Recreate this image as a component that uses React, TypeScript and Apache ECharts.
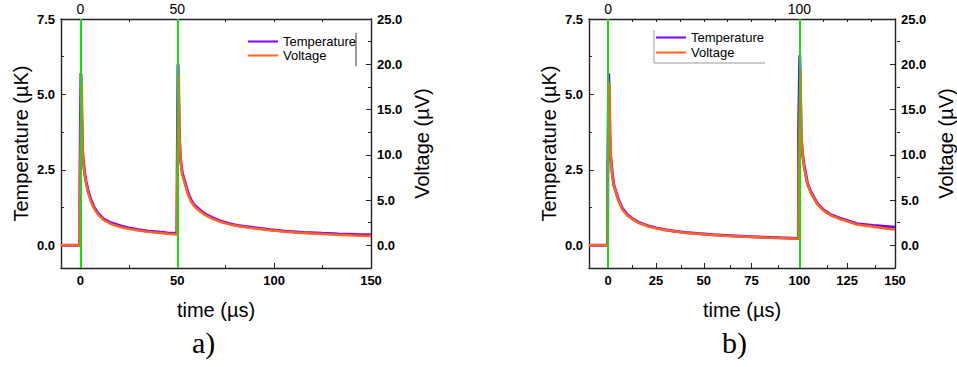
import React, { useEffect, useRef } from "react";
import * as echarts from "echarts";

// ---- data (time in µs, temperature in µK, voltage in µV) ----
const timeA = [-10, -0.3, -0.2, 0.3, 0.7, 1.1, 1.6, 2.2, 3, 4, 5.5, 7, 9, 12, 16, 21, 25, 30, 35, 40, 45, 49.8,
  50, 50.4, 50.8, 51.2, 51.8, 52.6, 53.7, 55.4, 57, 58.8, 61.5, 64, 68, 72.5, 77, 81, 90, 98, 106, 115, 125, 133, 142, 150];
const tempA = [0, 0, 2.3, 5.7, 4.3, 3.1, 2.75, 2.4, 2.1, 1.8, 1.5, 1.27, 1.07, 0.87, 0.74, 0.64, 0.58, 0.52, 0.47, 0.44, 0.41, 0.39,
  2.6, 6.0, 4.6, 3.4, 2.8, 2.4, 2.16, 1.77, 1.52, 1.33, 1.18, 1.05, 0.92, 0.8, 0.72, 0.66, 0.58, 0.52, 0.47, 0.43, 0.4, 0.38, 0.36, 0.35];
const voltA = [0, 0, 6.5, 14.0, 17.9, 11.0, 9.0, 7.8, 6.8, 5.8, 4.8, 4.1, 3.45, 2.8, 2.35, 2.0, 1.82, 1.64, 1.49, 1.38, 1.28, 1.2,
  7.5, 15.0, 18.9, 12.0, 9.2, 7.8, 7.0, 5.7, 4.9, 4.3, 3.8, 3.4, 2.95, 2.58, 2.32, 2.13, 1.86, 1.67, 1.5, 1.36, 1.26, 1.18, 1.1, 1.04];

const timeB = [-10, -0.3, -0.2, 0.3, 0.7, 1.1, 1.6, 2.4, 3, 4.1, 5.5, 7.5, 10, 12.6, 16, 21.2, 25, 29.8, 35, 40, 46.9, 55, 64, 72, 81.2, 90, 99.5,
  99.6, 100.2, 100.6, 101, 101.7, 102.6, 104.3, 106, 109.5, 112.9, 116, 121.4, 126, 130, 138.5, 144, 150];
const tempB = [0, 0, 2.3, 5.7, 4.3, 3.1, 2.75, 2.27, 2.0, 1.77, 1.5, 1.22, 1.02, 0.89, 0.76, 0.64, 0.58, 0.52, 0.47, 0.43, 0.39, 0.35, 0.32, 0.29, 0.27, 0.25, 0.23,
  3.8, 6.3, 4.8, 3.5, 3.0, 2.6, 2.05, 1.77, 1.38, 1.16, 1.03, 0.89, 0.8, 0.72, 0.66, 0.63, 0.6];
const voltB = [0, 0, 6.5, 14.0, 18.0, 11.0, 9.0, 7.4, 6.6, 5.8, 4.9, 3.95, 3.3, 2.9, 2.47, 2.08, 1.88, 1.7, 1.53, 1.4, 1.27, 1.14, 1.04, 0.95, 0.87, 0.8, 0.74,
  8.0, 14.5, 19.4, 12.5, 10.0, 8.5, 6.7, 5.8, 4.5, 3.8, 3.35, 2.9, 2.6, 2.3, 2.05, 1.9, 1.75];

const pulsesA = [0, 50];
const pulsesB = [0, 100];

const xMajorA = [0, 50, 100, 150];
const xMinorA = [25, 75, 125];
const xMajorB = [0, 25, 50, 75, 100, 125, 150];
const xMinorB = [12.5, 37.5, 62.5, 87.5, 112.5, 137.5];
const tempTicks = [0, 2.5, 5, 7.5];
const tempMinor = [1.25, 3.75, 6.25];
const voltTicks = [0, 5, 10, 15, 20, 25];
const voltMinor = [2.5, 7.5, 12.5, 17.5, 22.5];

const seriesNames = ["Temperature", "Voltage"];
const panelLabels = ["a)", "b)"];

const FONT = "'Liberation Sans', Arial, sans-serif";
const SERIF = "'Liberation Serif', 'Times New Roman', serif";
const AXIS = "#222";
const PURPLE = "#8000ff";
const ORANGE = "#ff6418";
const GREEN = "#10e010";

const X_MIN = -10, X_MAX = 150;
const T_MIN = -0.75, T_MAX = 7.5;
const V_MIN = -2.5, V_MAX = 25;

function zip(t: number[], v: number[]) {
  return t.map((x, i) => [x, v[i]]);
}

export default function App() {
  const ref = useRef<HTMLDivElement>(null);
  useEffect(() => {
    if (!ref.current) return;
    const chart = echarts.init(ref.current, null, { renderer: "svg" });

    const panels = [
      { left: 61, width: 310, major: xMajorA, minor: xMinorA, pulses: pulsesA, t: timeA, temp: tempA, volt: voltA },
      { left: 589, width: 311, major: xMajorB, minor: xMinorB, pulses: pulsesB, t: timeB, temp: tempB, volt: voltB },
    ];
    const top = 19, height = 249;

    const grid: any[] = [];
    const xAxis: any[] = [];
    const yAxis: any[] = [];
    const series: any[] = [];

    const tickLabel = { color: "#000", fontSize: 13, fontWeight: "bold", fontFamily: FONT, margin: 6 };
    const nameStyle = { color: "#000", fontSize: 20, fontFamily: FONT };
    const line = { show: true, onZero: false, lineStyle: { color: AXIS, width: 1.4 } };
    const noLine = { show: false, onZero: false };

    panels.forEach((p) => {
      const gMain = grid.length;
      grid.push({ left: p.left, top, width: p.width, height, containLabel: false });
      const gMinor = grid.length;
      grid.push({ left: p.left, top, width: p.width, height, containLabel: false });

      const xBottom = xAxis.length;
      xAxis.push({
        type: "value", gridIndex: gMain, position: "bottom", min: X_MIN, max: X_MAX,
        name: "time (µs)", nameLocation: "middle", nameGap: 32, nameTextStyle: nameStyle,
        axisLine: line,
        axisTick: { show: true, inside: true, length: 5, customValues: p.major, lineStyle: { color: AXIS } },
        axisLabel: { ...tickLabel, customValues: p.major },
        splitLine: { show: false },
      });
      xAxis.push({
        type: "value", gridIndex: gMain, position: "top", min: X_MIN, max: X_MAX,
        axisLine: line,
        axisTick: { show: true, inside: true, length: 3, customValues: [...p.major, ...p.minor].filter((v) => v < X_MAX), lineStyle: { color: AXIS } },
        axisLabel: { color: "#000", fontSize: 14, fontFamily: FONT, margin: 3, customValues: p.pulses },
        splitLine: { show: false },
      });
      xAxis.push({
        type: "value", gridIndex: gMinor, position: "bottom", min: X_MIN, max: X_MAX,
        axisLine: noLine,
        axisTick: { show: true, inside: true, length: 3, customValues: p.minor, lineStyle: { color: AXIS } },
        axisLabel: { show: false },
        splitLine: { show: false },
      });

      const yLeft = yAxis.length;
      yAxis.push({
        type: "value", gridIndex: gMain, position: "left", min: T_MIN, max: T_MAX,
        name: "Temperature (µK)", nameLocation: "middle", nameGap: 30, nameTextStyle: nameStyle,
        axisLine: line,
        axisTick: { show: true, inside: true, length: 5, customValues: tempTicks, lineStyle: { color: AXIS } },
        axisLabel: { ...tickLabel, customValues: tempTicks, formatter: (v: number) => v.toFixed(1) },
        splitLine: { show: false },
      });
      const yRight = yAxis.length;
      yAxis.push({
        type: "value", gridIndex: gMain, position: "right", min: V_MIN, max: V_MAX,
        name: "Voltage (µV)", nameLocation: "middle", nameGap: 41, nameTextStyle: nameStyle,
        axisLine: line,
        axisTick: { show: true, inside: true, length: 5, customValues: voltTicks, lineStyle: { color: AXIS } },
        axisLabel: { ...tickLabel, customValues: voltTicks, formatter: (v: number) => v.toFixed(1) },
        splitLine: { show: false },
      });
      yAxis.push({
        type: "value", gridIndex: gMinor, position: "left", min: T_MIN, max: T_MAX,
        axisLine: noLine,
        axisTick: { show: true, inside: true, length: 3, customValues: tempMinor, lineStyle: { color: AXIS } },
        axisLabel: { show: false }, splitLine: { show: false },
      });
      yAxis.push({
        type: "value", gridIndex: gMinor, position: "right", min: V_MIN, max: V_MAX,
        axisLine: noLine,
        axisTick: { show: true, inside: true, length: 3, customValues: voltMinor, lineStyle: { color: AXIS } },
        axisLabel: { show: false }, splitLine: { show: false },
      });

      series.push({
        type: "line", xAxisIndex: xBottom, yAxisIndex: yLeft, data: [], z: 1, silent: true,
        markLine: {
          symbol: "none", silent: true, label: { show: false },
          lineStyle: { color: GREEN, width: 2, type: "solid" },
          data: p.pulses.map((x) => ({ xAxis: x })),
        },
      });
      series.push({
        type: "line", name: seriesNames[0], xAxisIndex: xBottom, yAxisIndex: yLeft,
        data: zip(p.t, p.temp), symbol: "none", z: 2,
        lineStyle: { color: PURPLE, width: 3 }, itemStyle: { color: PURPLE },
      });
      series.push({
        type: "line", name: seriesNames[1], xAxisIndex: xBottom, yAxisIndex: yRight,
        data: zip(p.t, p.volt), symbol: "none", z: 3,
        lineStyle: { color: ORANGE, width: 2.5 }, itemStyle: { color: ORANGE },
      });
    });

    const legendText = { color: "#000", fontSize: 13, fontFamily: FONT };
    chart.setOption({
      animation: false,
      backgroundColor: "#fff",
      grid, xAxis, yAxis, series,
      legend: [
        { orient: "vertical", left: 247, top: 35, padding: 0, itemWidth: 30, itemHeight: 14, itemGap: 1, itemStyle: { opacity: 0 },
          textStyle: legendText, data: seriesNames, selectedMode: false },
        { orient: "vertical", left: 655, top: 31, padding: 0, itemWidth: 30, itemHeight: 14, itemGap: 2, itemStyle: { opacity: 0 },
          textStyle: legendText, data: seriesNames, selectedMode: false },
      ],
      graphic: [
        { type: "line", shape: { x1: 356, y1: 33, x2: 356, y2: 66 }, style: { stroke: "#333", lineWidth: 1 } },
        { type: "line", shape: { x1: 654, y1: 30, x2: 654, y2: 63 }, style: { stroke: "#999", lineWidth: 1 } },
        { type: "line", shape: { x1: 654, y1: 63, x2: 765, y2: 63 }, style: { stroke: "#999", lineWidth: 1 } },
        { type: "text", left: 192, top: 327, style: { text: panelLabels[0], fontSize: 30, fontFamily: SERIF, fill: "#000" } },
        { type: "text", left: 722, top: 327, style: { text: panelLabels[1], fontSize: 30, fontFamily: SERIF, fill: "#000" } },
      ],
    });
    return () => chart.dispose();
  }, []);
  return <div ref={ref} style={{ position: "fixed", left: 0, top: 0, width: 957, height: 367, background: "#fff" }} />;
}
